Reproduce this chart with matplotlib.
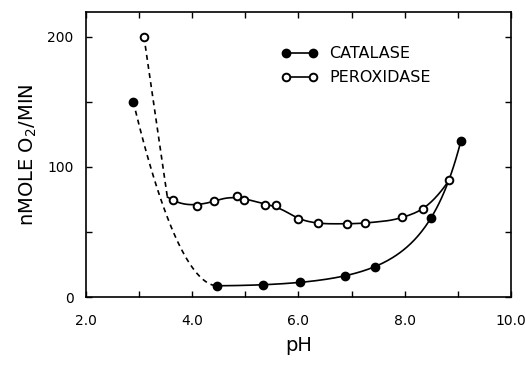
import matplotlib.pyplot as plt
import numpy as np

# pH / activity
cat_ph = [2.89, 4.47, 5.34, 6.02, 6.87, 7.44, 8.49, 9.06]
cat_val = [150, 8.7, 9.5, 11.3, 16.4, 23.3, 60.5, 120]

per_ph = [3.09, 3.63, 4.08, 4.41, 4.84, 4.98, 5.37, 5.58, 6.00, 6.36,
          6.91, 7.25, 7.95, 8.35, 8.84]
per_val = [200, 74.6, 70.2, 74.0, 77.7, 74.4, 70.5, 70.5, 59.7, 57.2,
           56.4, 56.9, 61.5, 68.0, 90.0]

xticks = [2, 4, 6, 8, 10]
xtick_labels = ["2.0", "4.0", "6.0", "8.0", "10.0"]
yticks = [0, 100, 200]


def connector(x0, y0, x1, y1, p):
    # hand-drawn style dashed joint between two measured points
    xs = np.linspace(x0, x1, 60)
    t = (x1 - xs) / (x1 - x0)
    return xs, y1 + (y0 - y1) * t ** p


def local_quad(x, y, xs, h):
    # gaussian weighted local quadratic fit = smooth "french curve"
    out = []
    for x0 in xs:
        w = np.exp(-0.5 * ((x - x0) / h) ** 2)
        A = np.vstack([np.ones_like(x), x - x0, (x - x0) ** 2]).T
        W = np.sqrt(w)
        c = np.linalg.lstsq(A * W[:, None], y * W, rcond=None)[0]
        out.append(c[0])
    return np.array(out)


fig, ax = plt.subplots(figsize=(5.25, 3.65), dpi=100)
fig.subplots_adjust(left=0.164, right=0.973, bottom=0.186, top=0.967)

lw = 1.2

# catalase: smooth curve through the solid part, dashed towards low pH
cx = np.array(cat_ph[1:])
cy = np.array(cat_val[1:])
coef = np.polyfit(cx, np.log(cy), 3)
xs = np.linspace(cx[0], cx[-1], 200)
ax.plot(xs, np.exp(np.polyval(coef, xs)), color='k', lw=lw)
dx, dy = connector(cat_ph[0], cat_val[0], cat_ph[1], cat_val[1], 1.9)
ax.plot(dx, dy, color='k', lw=lw, ls=(0, (3, 2.5)))

# peroxidase
px = np.array(per_ph[1:])
py = np.array(per_val[1:])
xs2 = np.linspace(px[0] - 0.1, px[-1], 250)
ys2 = local_quad(px, py, xs2, 0.32)
ax.plot(xs2, ys2, color='k', lw=lw)
dx2, dy2 = connector(per_ph[0], per_val[0], xs2[0], ys2[0], 1.0)
ax.plot(dx2, dy2, color='k', lw=lw, ls=(0, (3, 2.5)))

ax.plot(cat_ph, cat_val, 'o', color='k', ms=6, ls='none')
ax.plot(per_ph, per_val, 'o', mfc='white', mec='k', mew=1.4, ms=5.5, ls='none')

# legend handles
ax.plot([], [], 'o-', color='k', ms=6, lw=lw, label='CATALASE')
ax.plot([], [], 'o-', color='k', mfc='white', mec='k', mew=1.4, ms=5.5, lw=lw,
        label='PEROXIDASE')
h, l = ax.get_legend_handles_labels()
ax.legend(h[-2:], l[-2:], loc='upper left', bbox_to_anchor=(0.425, 0.93),
          frameon=False, numpoints=2, handlelength=2.3, handletextpad=0.7,
          labelspacing=0.55, fontsize=11.5)

ax.set_xlim(2, 10)
ax.set_ylim(0, 219)
ax.set_xticks(xticks)
ax.set_xticklabels(xtick_labels)
ax.set_xticks(np.arange(3, 10, 2), minor=True)
ax.set_yticks(yticks)
ax.set_yticks([50, 150], minor=True)
ax.tick_params(which='both', direction='in', top=True, right=True,
               length=4, width=1, labelsize=10)
ax.tick_params(axis='x', pad=12)
ax.tick_params(axis='y', pad=9)
for s in ax.spines.values():
    s.set_linewidth(1.2)

ax.set_xlabel('pH', fontsize=14, labelpad=6)
ax.set_ylabel('nMOLE O$_2$/MIN', fontsize=14, labelpad=6)

fig.savefig('out.png', dpi=100)
